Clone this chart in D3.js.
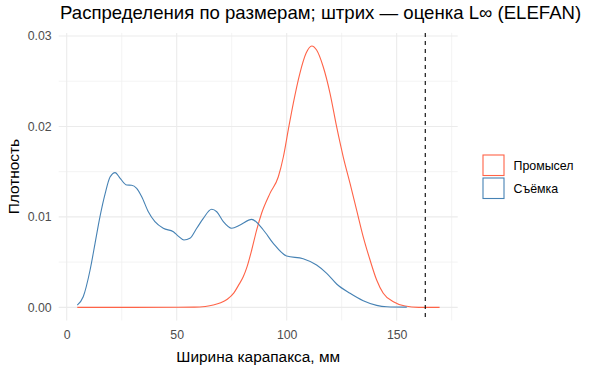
<!DOCTYPE html>
<html>
<head>
<meta charset="utf-8">
<script src="https://cdn.jsdelivr.net/npm/d3@7"></script>
<style>
  body { margin: 0; background: #fff; }
  text { font-family: "Liberation Sans", Arial, sans-serif; }
</style>
</head>
<body>
<svg width="591" height="369"></svg>
<script>
// density, x in mm
let surveyX = [4.8, 7.5, 10.6, 12.9, 15.1, 17.5, 19.7, 22.0, 24.2, 27.3, 29.5, 31.8, 34.1, 37.1, 40.1, 43.9, 48.5, 50.7, 53.3, 56.0, 59.1, 62.1, 65.9, 68.2, 71.2, 75.0, 78.8, 84.1, 89.4, 93.9, 100, 107.5, 113.6, 118.2, 122.7, 128.8, 134.8, 140.9, 145.5, 154.6];
let surveyY = [0.00025, 0.00117, 0.0041, 0.0071, 0.0100, 0.0126, 0.0144, 0.0149, 0.0143, 0.01352, 0.0135, 0.01316, 0.01223, 0.01057, 0.00947, 0.00874, 0.00836, 0.00788, 0.00744, 0.00763, 0.00874, 0.00984, 0.01084, 0.01057, 0.00947, 0.00874, 0.0091, 0.00973, 0.00855, 0.00708, 0.00567, 0.00538, 0.00468, 0.00376, 0.00258, 0.00155, 0.00073, 0.00022, 0.00007, 0.00002];

let fisheryX = [4.8, 30, 58, 63, 66.6, 70, 73, 76, 78, 80.3, 82, 84.1, 86.3, 88.6, 92.4, 96.2, 98.5, 100.7, 103, 106, 108.8, 111.4, 113.6, 116.6, 119.7, 122.7, 125.7, 128.8, 131.8, 134.8, 137.9, 140.9, 143.9, 148.5, 153.8, 160, 169.5];
let fisheryY = [0, 0, 0.00002, 0.0001, 0.00025, 0.0005, 0.0009, 0.0016, 0.0024, 0.0034, 0.0045, 0.00634, 0.0085, 0.0104, 0.0126, 0.01444, 0.01665, 0.0196, 0.02256, 0.02588, 0.02809, 0.0289, 0.02845, 0.0266, 0.02367, 0.01997, 0.01665, 0.01371, 0.01076, 0.0078, 0.00523, 0.00302, 0.00155, 0.00062, 0.00014, 0, 0];

let groups = ["Промысел", "Съёмка"];
let colors = ["tomato", "steelblue"];
let xTicks = [0, 50, 100, 150];
let xMinor = [25, 75, 125, 175];
let yTicks = [0, 0.01, 0.02, 0.03];
let yMinor = [0.005, 0.015, 0.025];
let linf = 163;

let svg = d3.select("svg");
let pLeft = 58.7, pRight = 457.7, pTop = 32.9, pBottom = 320.4;

// ggplot-style 5% expansion around data range
let xr = [4.6, 169.5];
let xpad = (xr[1] - xr[0]) * 0.05;
let xScale = d3.scaleLinear().domain([xr[0] - xpad, xr[1] + xpad]).range([pLeft, pRight]);
let ymax = 0.0289;
let yScale = d3.scaleLinear().domain([-ymax * 0.05, ymax * 1.05]).range([pBottom, pTop]);

let grid = svg.append("g");
grid.selectAll(".vmin").data(xMinor).enter().append("line")
  .attr("x1", d => xScale(d)).attr("x2", d => xScale(d))
  .attr("y1", pTop).attr("y2", pBottom)
  .attr("stroke", "#f0f0f0").attr("stroke-width", 0.8);
grid.selectAll(".hmin").data(yMinor).enter().append("line")
  .attr("x1", pLeft).attr("x2", pRight)
  .attr("y1", d => yScale(d)).attr("y2", d => yScale(d))
  .attr("stroke", "#f0f0f0").attr("stroke-width", 0.8);
grid.selectAll(".vmaj").data(xTicks).enter().append("line")
  .attr("x1", d => xScale(d)).attr("x2", d => xScale(d))
  .attr("y1", pTop).attr("y2", pBottom)
  .attr("stroke", "#ebebeb").attr("stroke-width", 1.1);
grid.selectAll(".hmaj").data(yTicks).enter().append("line")
  .attr("x1", pLeft).attr("x2", pRight)
  .attr("y1", d => yScale(d)).attr("y2", d => yScale(d))
  .attr("stroke", "#ebebeb").attr("stroke-width", 1.1);

// axes, with no domain lines or ticks (theme_minimal)
let xAxis = svg.append("g")
  .attr("transform", "translate(0," + (pBottom + 2) + ")")
  .call(d3.axisBottom(xScale).tickValues(xTicks).tickSize(0).tickFormat(d3.format("d")));
let yAxis = svg.append("g")
  .attr("transform", "translate(" + (pLeft - 2) + ",0)")
  .call(d3.axisLeft(yScale).tickValues(yTicks).tickSize(0).tickFormat(d3.format(".2f")));
[xAxis, yAxis].forEach(function(a) {
  a.select(".domain").remove();
  a.selectAll("text").attr("fill", "#4d4d4d").style("font-size", "12.3px")
    .style("font-family", "'Liberation Sans', Arial, sans-serif");
});
xAxis.selectAll("text").attr("dy", "0.71em").attr("y", 7.5);
yAxis.selectAll("text").attr("x", -5);

let line = d3.line()
  .x(d => xScale(d[0]))
  .y(d => yScale(d[1]))
  .curve(d3.curveMonotoneX);

let series = [
  d3.zip(fisheryX, fisheryY),
  d3.zip(surveyX, surveyY)
];

svg.selectAll(".dens").data(series).enter().append("path")
  .attr("d", line)
  .attr("fill", "none")
  .attr("stroke", (d, i) => colors[i])
  .attr("stroke-width", 1.1);

svg.append("line")
  .attr("x1", xScale(linf)).attr("x2", xScale(linf))
  .attr("y1", pTop).attr("y2", pBottom)
  .attr("stroke", "black").attr("stroke-width", 1.1)
  .attr("stroke-dasharray", "4,4");

// titles
svg.append("text")
  .attr("x", 60).attr("y", 19)
  .style("font-size", "18.6px").attr("fill", "black")
  .text("Распределения по размерам; штрих — оценка L∞ (ELEFAN)");
svg.append("text")
  .attr("x", (pLeft + pRight) / 2).attr("y", 361.5)
  .attr("text-anchor", "middle")
  .style("font-size", "15.4px").attr("fill", "black")
  .text("Ширина карапакса, мм");
svg.append("text")
  .attr("transform", "translate(19," + ((pTop + pBottom) / 2) + ") rotate(-90)")
  .attr("text-anchor", "middle")
  .style("font-size", "15.4px").attr("fill", "black")
  .text("Плотность");

// legend
let legend = svg.append("g").attr("transform", "translate(482.5,154.5)");
let keys = legend.selectAll(".key").data(groups).enter().append("g")
  .attr("transform", (d, i) => "translate(0," + i * 23 + ")");
keys.append("rect")
  .attr("x", 0.5).attr("y", 0.5).attr("width", 21).attr("height", 20.5)
  .attr("fill", "none")
  .attr("stroke", (d, i) => colors[i]).attr("stroke-width", 1.1);
keys.append("text")
  .attr("x", 31).attr("y", 11)
  .attr("dy", "0.35em")
  .style("font-size", "12.4px").attr("fill", "black")
  .text(d => d);
</script>
</body>
</html>
